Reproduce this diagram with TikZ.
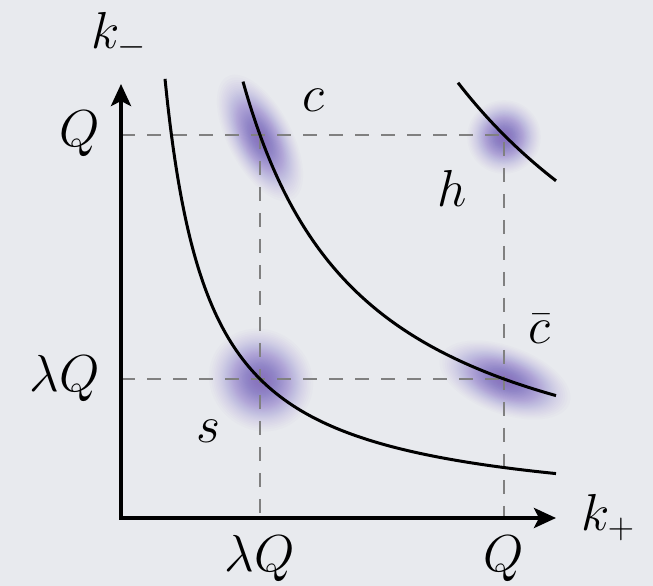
\documentclass[tikz,border=0pt]{standalone}
\usepackage{fix-cm}
\usetikzlibrary{arrows.meta}
\definecolor{bgc}{RGB}{232,234,238}
\definecolor{blobc}{RGB}{95,65,185}
\definecolor{dashc}{RGB}{128,128,128}
\tikzset{
  axisline/.style={line width=4.5pt, line join=miter,
    {Stealth[length=22pt,width=20pt,inset=5pt]}-{Stealth[length=22pt,width=20pt,inset=5pt]}},
  curveline/.style={line width=3pt, black},
  guide/.style={dashc, line width=2pt, dash pattern=on 14pt off 12pt},
  lab/.style={inner sep=0pt, anchor=base, font=\fontsize{52}{62}\selectfont},
}
\newcommand{\myblob}[5]{%
  \begin{scope}[shift={(#1,#2)}, rotate=#3]
    \foreach \i in {4,...,50}{\fill[blobc, fill opacity=0.02] (0,0) ellipse [x radius={#4pt/1.6*sqrt(ln(50.5/\i))}, y radius={#5pt/1.6*sqrt(ln(50.5/\i))}];}
  \end{scope}}
\begin{document}
\begin{tikzpicture}[x=1pt,y=1pt]
  \fill[bgc] (0,0) rectangle (653,586);
  \useasboundingbox (0,0) rectangle (653,586);
  % key points
  \coordinate (O) at (121,68);
  \coordinate (Xtip) at (556,68);
  \coordinate (Ytip) at (121,502);
  \coordinate (yQ) at (121,451);
  \coordinate (yL) at (121,207);
  \coordinate (xL) at (260,68);
  \coordinate (xQ) at (504,68);
  \coordinate (pQQ) at (504,451);
  \coordinate (pLQ) at (260,451);
  \coordinate (pQL) at (504,207);
  % blobs
  \myblob{260}{448}{-62}{70}{32}
  \myblob{504}{449}{0}{37}{37}
  \myblob{261}{206}{-40}{54}{50}
  \myblob{505}{206}{-20}{69}{34}
  % guides
  \draw[guide] (yQ) -- (pQQ) -- (xQ);
  \draw[guide] (yL) -- (pQL);
  \draw[guide] (pLQ) -- (xL);
  % curves
  \begin{scope}[shift={(O)}]
    \draw[curveline] plot[domain=44:435, samples=150, smooth] (\x, {1932.1/(\x/10)});
    \draw[curveline] plot[domain=122:435, samples=150, smooth] (\x, {5323.7/(\x/10)});
    \draw[curveline] plot[domain=337:435, samples=60, smooth] (\x, {14668.9/(\x/10)});
  \end{scope}
  % axes
  \draw[axisline] (Ytip) -- (O) -- (Xtip);
  % labels
  \node[lab] (lkm) at (119,537) {$k_-$};
  \node[lab] (lkp) at (608,55) {$k_+$};
  \node[lab, anchor=base east] (lQy) at (100,439) {$Q$};
  \node[lab, anchor=base east] (lLy) at (100,194) {$\lambda Q$};
  \node[lab] (lLx) at (260,14) {$\lambda Q$};
  \node[lab] (lQx) at (504,14) {$Q$};
  \node[lab] (lc) at (313,474) {$c$};
  \node[lab] (lh) at (452,379) {$h$};
  \node[lab] (lcb) at (539,242) {$\bar c$};
  \node[lab] (ls) at (208,143) {$s$};
\end{tikzpicture}
\end{document}
